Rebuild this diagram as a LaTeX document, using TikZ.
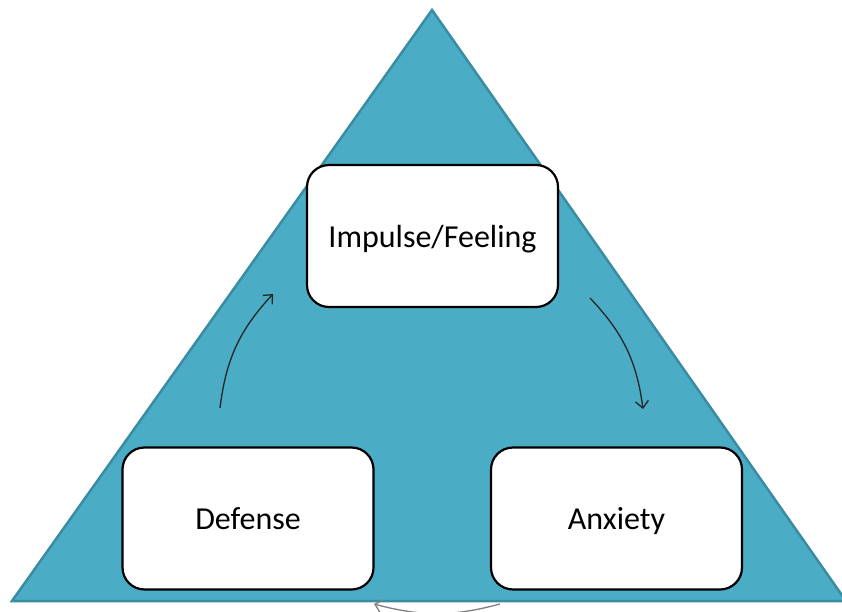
\documentclass[tikz,border=0pt]{standalone}
\usepackage{fontspec}
\setmainfont{Carlito}
\usetikzlibrary{arrows.meta}
\definecolor{aqua}{HTML}{4BACC6}
\definecolor{aquadark}{HTML}{3A8CA3}
\definecolor{arrowgray}{HTML}{808080}
\begin{document}
\begin{tikzpicture}[x=1pt,y=-1pt,>={Straight Barb[length=7,width=13]}]
\useasboundingbox (0,0) rectangle (842,612);

\fill[aqua, draw=aquadark, line width=2.5] (432,10) -- (846,601) -- (12,601) -- cycle;

\begin{scope}[every node/.style={rectangle,rounded corners=22,draw,line width=2.2,
              fill=white,minimum width=251,minimum height=142,text height=25,text depth=3,
              font=\fontsize{32}{38}\selectfont}]
    \node (Impulse) at (432.5,236) {Impulse/Feeling};

    \node (Defense) at (248,518.5) {Defense};
    \node (Anxiety) at (616.5,518.5) {Anxiety};
\end{scope}

\coordinate (DefOut) at (220,408);
\coordinate (ImpIn) at (273,294);
\coordinate (ImpOut) at (590,298);
\coordinate (AnxIn) at (643,409);
\coordinate (AnxOut) at (500,604);
\coordinate (DefIn) at (374,604);

\begin{scope}[every edge/.style={draw=black!85,line width=1.3}]
    \path [->] (DefOut) edge [bend left=18] (ImpIn);
    \path [->] (ImpOut) edge [bend left=18] (AnxIn);
    \path [->] (AnxOut) edge [bend left=15,draw=arrowgray] (DefIn);
\end{scope}
\end{tikzpicture}
\end{document}
